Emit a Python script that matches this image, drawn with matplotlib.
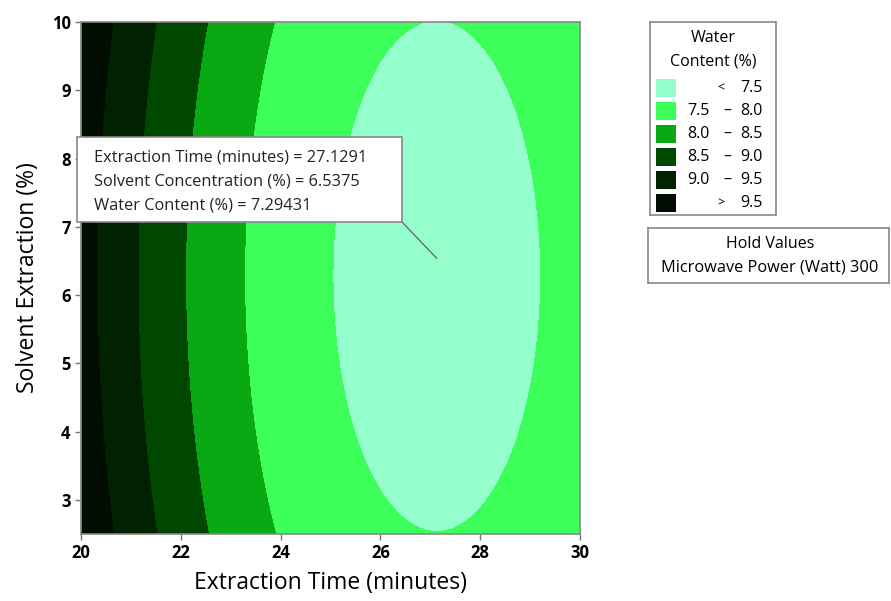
import numpy as np
import matplotlib.pyplot as plt
from matplotlib.patches import Rectangle

# Fitted response surface (Water Content %)
# Water = w_min + k_time*(t - t_opt)^2 + k_solv*(s - s_opt)^2
w_min = 7.294
t_opt = 27.13
s_opt = 6.28
k_time = 0.0476
k_solv = 0.0147

time_range = [20, 30]
solvent_range = [2.5, 10]
levels = [7.5, 8.0, 8.5, 9.0, 9.5]
level_colors = ['#94ffcc', '#3dff5a', '#0aa812', '#004800', '#002200', '#000d00']
legend_labels = [('', '<', '7.5'), ('7.5', '\u2013', '8.0'), ('8.0', '\u2013', '8.5'),
                 ('8.5', '\u2013', '9.0'), ('9.0', '\u2013', '9.5'), ('', '>', '9.5')]

hold_name = 'Microwave Power (Watt)'
hold_value = 300
point_time = 27.1291
point_solvent = 6.5375
point_water = 7.29431

plt.rcParams['font.family'] = ['Open Sans', 'DejaVu Sans']

fig = plt.figure(figsize=(8.91, 6.01), dpi=100)
ax = fig.add_axes([81 / 891, 1 - 534 / 601, 499 / 891, 512 / 601])

t = np.linspace(time_range[0], time_range[1], 500)
s = np.linspace(solvent_range[0], solvent_range[1], 500)
T, S = np.meshgrid(t, s)
W = w_min + k_time * (T - t_opt) ** 2 + k_solv * (S - s_opt) ** 2

bounds = [W.min() - 1] + levels + [W.max() + 1]
ax.contourf(T, S, W, levels=bounds, colors=level_colors)

ax.set_xlim(time_range)
ax.set_ylim(solvent_range)
ax.set_xticks([20, 22, 24, 26, 28, 30])
ax.set_yticks([3, 4, 5, 6, 7, 8, 9, 10])
ax.tick_params(direction='out', length=4, width=1, color='#777777', labelsize=12)
for lab in ax.get_xticklabels() + ax.get_yticklabels():
    lab.set_fontweight('bold')
for sp in ax.spines.values():
    sp.set_color('#888888')
    sp.set_linewidth(1.2)
ax.set_xlabel('Extraction Time (minutes)', fontsize=16.5, labelpad=6)
ax.set_ylabel('Solvent Extraction (%)', fontsize=16.5, labelpad=8)

# annotation box with the selected point
fig.patches.append(Rectangle((77 / 891, 1 - 222 / 601), 325 / 891, 85 / 601,
                             transform=fig.transFigure, facecolor='white',
                             edgecolor='#888888', linewidth=1.2, zorder=5))
ann_lines = ['Extraction Time (minutes) = %.4f' % point_time,
             'Solvent Concentration (%%) = %.4f' % point_solvent,
             'Water Content (%%) = %.5f' % point_water]
for i, line in enumerate(ann_lines):
    fig.text(94 / 891, 1 - (158 + 24 * i) / 601, line, fontsize=11.8,
             va='center', ha='left', color='#222222', zorder=6)
ax.annotate('', xy=(point_time, point_solvent), xycoords='data',
            xytext=(402 / 891, 1 - 222 / 601), textcoords='figure fraction',
            arrowprops=dict(arrowstyle='-', color='#555555', lw=0.8,
                            shrinkA=0, shrinkB=0))

# legend box
lg = fig.add_axes([650 / 891, 1 - 215 / 601, 126 / 891, 193 / 601])
lg.set_xlim(650, 776)
lg.set_ylim(215, 22)
lg.set_xticks([])
lg.set_yticks([])
for sp in lg.spines.values():
    sp.set_color('#888888')
    sp.set_linewidth(1.2)
lg.text(713, 38, 'Water', ha='center', va='center', fontsize=11.5)
lg.text(713, 61, 'Content (%)', ha='center', va='center', fontsize=11.5)
for i, (col, (lo, sep, hi)) in enumerate(zip(level_colors, legend_labels)):
    yc = 88 + 23 * i
    lg.add_patch(Rectangle((656, yc - 9), 20, 18, facecolor=col, edgecolor='none'))
    if lo:
        lg.text(710, yc, lo, ha='right', va='center', fontsize=11.5)
        lg.text(727, yc, sep, ha='center', va='center', fontsize=11.5)
    else:
        lg.text(721, yc, sep, ha='center', va='center', fontsize=9)
    lg.text(763, yc, hi, ha='right', va='center', fontsize=11.5)

# hold values box
hb = fig.add_axes([648 / 891, 1 - 283 / 601, 241 / 891, 55 / 601])
hb.set_xlim(648, 889)
hb.set_ylim(283, 228)
hb.set_xticks([])
hb.set_yticks([])
for sp in hb.spines.values():
    sp.set_color('#888888')
    sp.set_linewidth(1.2)
hb.text(770, 244, 'Hold Values', ha='center', va='center', fontsize=11.5)
hb.text(770, 268, '%s %d' % (hold_name, hold_value), ha='center', va='center', fontsize=11.8)

fig.savefig('out.png', dpi=100)
plt.close(fig)
